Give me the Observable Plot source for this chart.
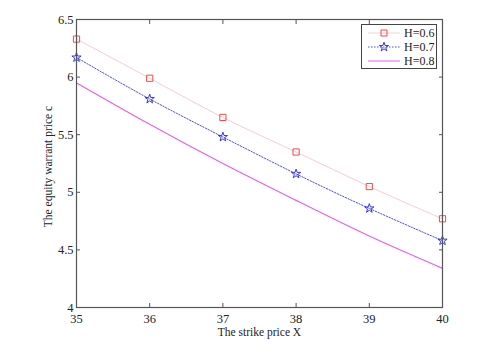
<!DOCTYPE html>
<html>
<head>
<meta charset="utf-8">
<script src="https://cdn.jsdelivr.net/npm/d3@7"></script>
<script src="https://cdn.jsdelivr.net/npm/@observablehq/plot@0.6"></script>
<style>
  html, body { margin: 0; padding: 0; background: #fff; }
  #wrap { position: relative; width: 482px; height: 357px; }
  #legend { position: absolute; left: 361px; top: 24px; width: 76px; height: 45px;
    border: 1px solid #444; background: #fff; box-sizing: border-box; }
</style>
</head>
<body>
<div id="wrap"></div>
<script>
const strikes = [35, 36, 37, 38, 39, 40];
const h06 = [6.33, 5.99, 5.65, 5.35, 5.05, 4.77];
const h07 = [6.17, 5.81, 5.48, 5.16, 4.86, 4.58];
const h08 = [5.95, 5.59, 5.25, 4.93, 4.62, 4.34];
const seriesNames = ["H=0.6", "H=0.7", "H=0.8"];
const xTicks = [35, 36, 37, 38, 39, 40];
const yTicks = [4, 4.5, 5, 5.5, 6, 6.5];
const xLabel = "The strike price X";
const yLabel = "The equity warrant price c";

const rows = (vals) => strikes.map((x, i) => ({x, y: vals[i]}));
const d06 = rows(h06), d07 = rows(h07), d08 = rows(h08);

const font = "'Times New Roman', 'Liberation Serif', serif";
const axisColor = "#555";
const fmt = d => String(d);
const chart = Plot.plot({
  width: 482,
  height: 357,
  marginLeft: 76,
  marginRight: 40,
  marginTop: 19,
  marginBottom: 50,
  style: {fontFamily: font, fontSize: "12.5px", color: "#222", background: "#fff"},
  x: {domain: [35, 40]},
  y: {domain: [4, 6.5]},
  marks: [
    Plot.line(d06, {x: "x", y: "y", stroke: "#f8cbd8", strokeWidth: 1, curve: "natural"}),
    Plot.line(d07, {x: "x", y: "y", stroke: "#4f4ff2", strokeWidth: 1, strokeDasharray: "1.5,1.5", curve: "natural"}),
    Plot.line(d08, {x: "x", y: "y", stroke: "#ea5fea", strokeWidth: 1.2, curve: "natural"}),
    Plot.dot(d06, {x: "x", y: "y", symbol: "square", r: 3.5, stroke: "#ef4a4a", fill: "none", strokeWidth: 1}),
    Plot.dot(d07, {x: "x", y: "y", symbol: "star", r: 2.9, stroke: "#3636ee", fill: "none", strokeWidth: 1}),
    Plot.axisX(xTicks, {anchor: "bottom", tickSize: 0, tickPadding: 7, tickFormat: fmt, label: null, fontSize: 12.5}),
    Plot.axisX(xTicks, {anchor: "bottom", tickSize: 4, dy: -4, text: null, label: null, stroke: axisColor}),
    Plot.axisX(xTicks, {anchor: "top", tickSize: 4, dy: 4, text: null, label: null, stroke: axisColor}),
    Plot.axisY(yTicks, {anchor: "left", tickSize: 0, tickPadding: 3, tickFormat: fmt, label: null, fontSize: 12.5}),
    Plot.axisY(yTicks, {anchor: "left", tickSize: 4, dx: 4, text: null, label: null, stroke: axisColor}),
    Plot.axisY(yTicks, {anchor: "right", tickSize: 4, dx: -4, text: null, label: null, stroke: axisColor}),
    Plot.frame({stroke: axisColor, strokeWidth: 1.2}),
    Plot.text([xLabel], {text: d => d, frameAnchor: "bottom", dy: 25, lineAnchor: "middle", fontSize: 11.5, fill: "#222"}),
    Plot.text([yLabel], {text: d => d, frameAnchor: "left", dx: -28, dy: 3, rotate: -90, lineAnchor: "middle", textAnchor: "middle", fontSize: 11.5, fill: "#222"})
  ]
});
const wrap = document.getElementById("wrap");
wrap.appendChild(chart);

// Legend
const legend = document.createElement("div");
legend.id = "legend";
const styles = [
  {stroke: "#f8cbd8", dash: null, sym: "square", symStroke: "#ef4a4a"},
  {stroke: "#4f4ff2", dash: "1.5,1.5", sym: "star", symStroke: "#3636ee"},
  {stroke: "#ea5fea", dash: null, sym: null}
];
const ns = "http://www.w3.org/2000/svg";
const svg = document.createElementNS(ns, "svg");
svg.setAttribute("width", 74);
svg.setAttribute("height", 43);
svg.style.position = "absolute";
svg.style.left = "0";
svg.style.top = "0";
seriesNames.forEach((name, i) => {
  const cy = 8 + i * 14;
  const s = styles[i];
  const line = document.createElementNS(ns, "line");
  line.setAttribute("x1", 6); line.setAttribute("x2", 38);
  line.setAttribute("y1", cy); line.setAttribute("y2", cy);
  line.setAttribute("stroke", s.stroke);
  if (s.dash) line.setAttribute("stroke-dasharray", s.dash);
  svg.appendChild(line);
  if (s.sym) {
    const p = document.createElementNS(ns, "path");
    const sym = s.sym === "square" ? d3.symbolSquare : d3.symbolStar;
    p.setAttribute("d", d3.symbol(sym, s.sym === "square" ? 36 : 26)());
    p.setAttribute("transform", `translate(22,${cy})`);
    p.setAttribute("fill", "none");
    p.setAttribute("stroke", s.symStroke);
    svg.appendChild(p);
  }
  const t = document.createElementNS(ns, "text");
  t.setAttribute("x", 42); t.setAttribute("y", cy);
  t.setAttribute("dy", "0.35em");
  t.setAttribute("font-family", font);
  t.setAttribute("font-size", "12");
  t.setAttribute("fill", "#222");
  t.textContent = name;
  svg.appendChild(t);
});
legend.appendChild(svg);
wrap.appendChild(legend);
</script>
</body>
</html>
